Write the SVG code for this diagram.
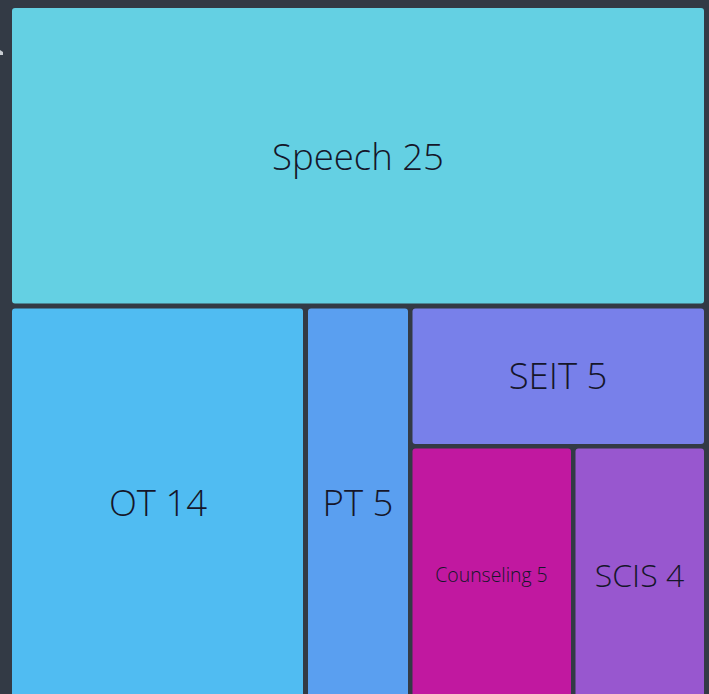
<svg xmlns="http://www.w3.org/2000/svg" width="709" height="694" viewBox="0 0 709 694">
<style>
.cell{stroke:none}
.lbl{font-family:"Open Sans","Liberation Sans",sans-serif;font-weight:300;fill:#15162a;text-anchor:middle;dominant-baseline:central}
.big{font-size:36.5px}
.mid{font-size:32px}
.small{font-size:19.4px}
</style>
<rect x="0" y="0" width="709" height="694" fill="#333a45"/>
<path d="M0 50 L3 52 L3 55 L0 55 Z" fill="#c8ccd2"/>
<g id="speech"><rect class="cell" x="12" y="8" width="692" height="295.5" rx="3" fill="#64d0e3"/><text class="lbl big" x="358" y="156">Speech 25</text></g>
<g id="ot"><rect class="cell" x="12" y="308.5" width="291" height="400" rx="3" fill="#50bcf2"/><text class="lbl big" x="158" y="502">OT 14</text></g>
<g id="pt"><rect class="cell" x="308" y="308.5" width="100" height="400" rx="3" fill="#5a9ff0"/><text class="lbl big" x="358" y="502">PT 5</text></g>
<g id="seit"><rect class="cell" x="412.5" y="308.5" width="291.5" height="135.5" rx="3" fill="#7880ea"/><text class="lbl big" x="558" y="375">SEIT 5</text></g>
<g id="counseling"><rect class="cell" x="412.5" y="448.5" width="158.5" height="260" rx="3" fill="#c118a0"/><text class="lbl small" x="491.5" y="574">Counseling 5</text></g>
<g id="scis"><rect class="cell" x="575.5" y="448.5" width="128.5" height="260" rx="3" fill="#9857cf"/><text class="lbl mid" x="639.5" y="574">SCIS 4</text></g>
<g id="connectors"></g>
</svg>
